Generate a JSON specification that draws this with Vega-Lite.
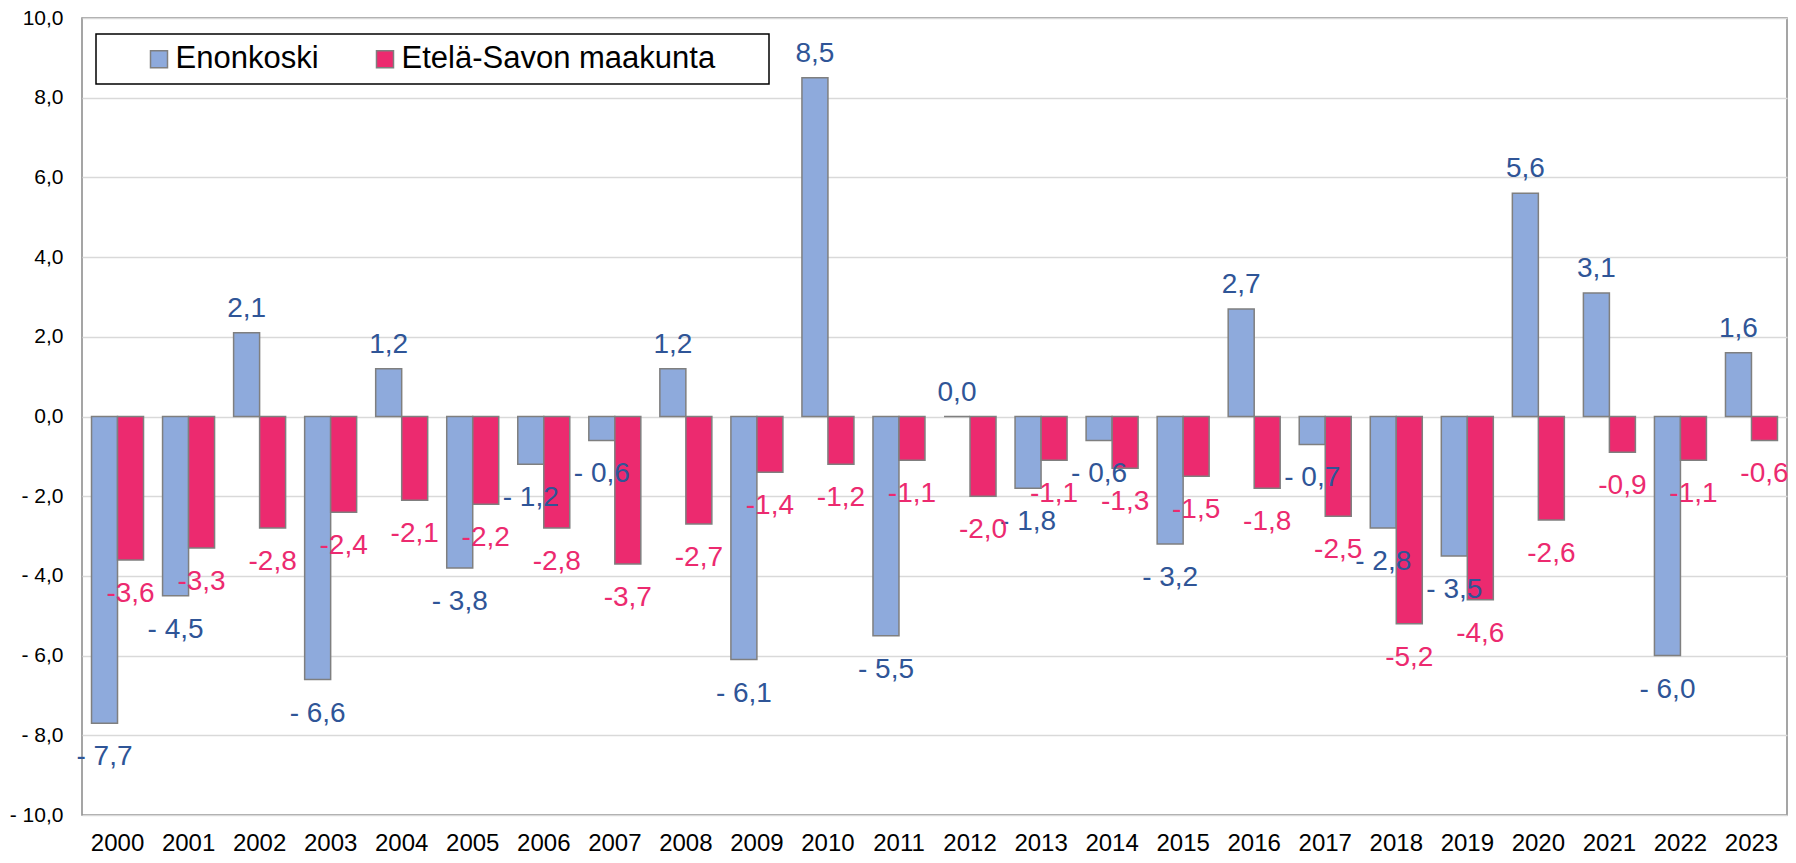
{
  "$schema": "https://vega.github.io/schema/vega-lite/v6.json",
  "width": 1705,
  "height": 797,
  "autosize": {"type": "none"},
  "padding": {"left": 82, "top": 18, "right": 9, "bottom": 48},
  "background": "white",
  "config": {
    "font": "Liberation Sans",
    "view": {"stroke": "#888888", "strokeWidth": 1.5}
  },
  "data": {
    "values": [
      {"year": "2000", "series": "Enonkoski", "value": -7.7},
      {"year": "2001", "series": "Enonkoski", "value": -4.5},
      {"year": "2002", "series": "Enonkoski", "value": 2.1},
      {"year": "2003", "series": "Enonkoski", "value": -6.6},
      {"year": "2004", "series": "Enonkoski", "value": 1.2},
      {"year": "2005", "series": "Enonkoski", "value": -3.8},
      {"year": "2006", "series": "Enonkoski", "value": -1.2},
      {"year": "2007", "series": "Enonkoski", "value": -0.6},
      {"year": "2008", "series": "Enonkoski", "value": 1.2},
      {"year": "2009", "series": "Enonkoski", "value": -6.1},
      {"year": "2010", "series": "Enonkoski", "value": 8.5},
      {"year": "2011", "series": "Enonkoski", "value": -5.5},
      {"year": "2012", "series": "Enonkoski", "value": 0.0},
      {"year": "2013", "series": "Enonkoski", "value": -1.8},
      {"year": "2014", "series": "Enonkoski", "value": -0.6},
      {"year": "2015", "series": "Enonkoski", "value": -3.2},
      {"year": "2016", "series": "Enonkoski", "value": 2.7},
      {"year": "2017", "series": "Enonkoski", "value": -0.7},
      {"year": "2018", "series": "Enonkoski", "value": -2.8},
      {"year": "2019", "series": "Enonkoski", "value": -3.5},
      {"year": "2020", "series": "Enonkoski", "value": 5.6},
      {"year": "2021", "series": "Enonkoski", "value": 3.1},
      {"year": "2022", "series": "Enonkoski", "value": -6.0},
      {"year": "2023", "series": "Enonkoski", "value": 1.6},
      {"year": "2000", "series": "Etelä-Savon maakunta", "value": -3.6},
      {"year": "2001", "series": "Etelä-Savon maakunta", "value": -3.3},
      {"year": "2002", "series": "Etelä-Savon maakunta", "value": -2.8},
      {"year": "2003", "series": "Etelä-Savon maakunta", "value": -2.4},
      {"year": "2004", "series": "Etelä-Savon maakunta", "value": -2.1},
      {"year": "2005", "series": "Etelä-Savon maakunta", "value": -2.2},
      {"year": "2006", "series": "Etelä-Savon maakunta", "value": -2.8},
      {"year": "2007", "series": "Etelä-Savon maakunta", "value": -3.7},
      {"year": "2008", "series": "Etelä-Savon maakunta", "value": -2.7},
      {"year": "2009", "series": "Etelä-Savon maakunta", "value": -1.4},
      {"year": "2010", "series": "Etelä-Savon maakunta", "value": -1.2},
      {"year": "2011", "series": "Etelä-Savon maakunta", "value": -1.1},
      {"year": "2012", "series": "Etelä-Savon maakunta", "value": -2.0},
      {"year": "2013", "series": "Etelä-Savon maakunta", "value": -1.1},
      {"year": "2014", "series": "Etelä-Savon maakunta", "value": -1.3},
      {"year": "2015", "series": "Etelä-Savon maakunta", "value": -1.5},
      {"year": "2016", "series": "Etelä-Savon maakunta", "value": -1.8},
      {"year": "2017", "series": "Etelä-Savon maakunta", "value": -2.5},
      {"year": "2018", "series": "Etelä-Savon maakunta", "value": -5.2},
      {"year": "2019", "series": "Etelä-Savon maakunta", "value": -4.6},
      {"year": "2020", "series": "Etelä-Savon maakunta", "value": -2.6},
      {"year": "2021", "series": "Etelä-Savon maakunta", "value": -0.9},
      {"year": "2022", "series": "Etelä-Savon maakunta", "value": -1.1},
      {"year": "2023", "series": "Etelä-Savon maakunta", "value": -0.6}
    ]
  },
  "transform": [
    {"calculate": "datum.value < 0 ? (datum.series === 'Enonkoski' ? '- ' : '-') + replace(format(abs(datum.value), '.1f'), '.', ',') : replace(format(datum.value, '.1f'), '.', ',')", "as": "label"}
  ],
  "encoding": {
    "x": {
      "field": "year", "type": "nominal", "sort": null,
      "scale": {"paddingInner": 0.268, "paddingOuter": 0.134},
      "axis": {"title": null, "labelAngle": 0, "ticks": false, "domain": false, "labelFontSize": 24, "labelColor": "#000000", "labelPadding": 16}
    },
    "xOffset": {"field": "series", "type": "nominal", "sort": ["Enonkoski", "Etelä-Savon maakunta"], "scale": {"paddingInner": 0, "paddingOuter": 0}},
    "y": {
      "field": "value", "type": "quantitative",
      "scale": {"domain": [-10, 10], "nice": false},
      "axis": {
        "title": null, "values": [-10, -8, -6, -4, -2, 0, 2, 4, 6, 8, 10],
        "labelExpr": "datum.value < 0 ? '- ' + replace(format(abs(datum.value), '.1f'), '.', ',') : replace(format(datum.value, '.1f'), '.', ',')",
        "ticks": false, "domain": false, "labelFontSize": 21, "labelColor": "#000000", "labelPadding": 19,
        "gridColor": "#d9d9d9", "gridWidth": 1.5
      }
    }
  },
  "layer": [
    {
      "mark": {"type": "bar", "stroke": "#7f7f7f", "strokeWidth": 1.5},
      "encoding": {
        "color": {
          "field": "series", "type": "nominal",
          "scale": {"domain": ["Enonkoski", "Etelä-Savon maakunta"], "range": ["#8eaadc", "#ec2a6f"]},
          "legend": {
            "title": " ", "titleOrient": "right", "titlePadding": 44, "titleFontSize": 31,
            "orient": "none", "legendX": 14, "legendY": 16, "direction": "horizontal",
            "fillColor": "white", "strokeColor": "#000000", "padding": 9.5,
            "symbolType": "square", "symbolSize": 289, "symbolStrokeColor": "#7f7f7f", "symbolStrokeWidth": 1.5, "symbolOffset": 38,
            "labelFontSize": 31, "labelColor": "#000000", "labelOffset": 1, "columnPadding": 12, "labelLimit": 500,
            "encode": {"legend": {"update": {"strokeWidth": {"value": 1.5}}}}
          }
        }
      }
    },
    {
      "transform": [{"filter": "datum.value >= 0"}],
      "mark": {"type": "text", "fontSize": 28, "baseline": "alphabetic", "dy": -16, "color": "#2f5597"},
      "encoding": {"text": {"field": "label", "type": "nominal"}}
    },
    {
      "transform": [{"filter": "datum.value < 0"}],
      "mark": {"type": "text", "fontSize": 28, "baseline": "alphabetic", "dy": 42},
      "encoding": {
        "text": {"field": "label", "type": "nominal"},
        "color": {"condition": {"test": "datum.series === 'Enonkoski'", "value": "#2f5597"}, "value": "#ec2a6f"}
      }
    }
  ]
}
